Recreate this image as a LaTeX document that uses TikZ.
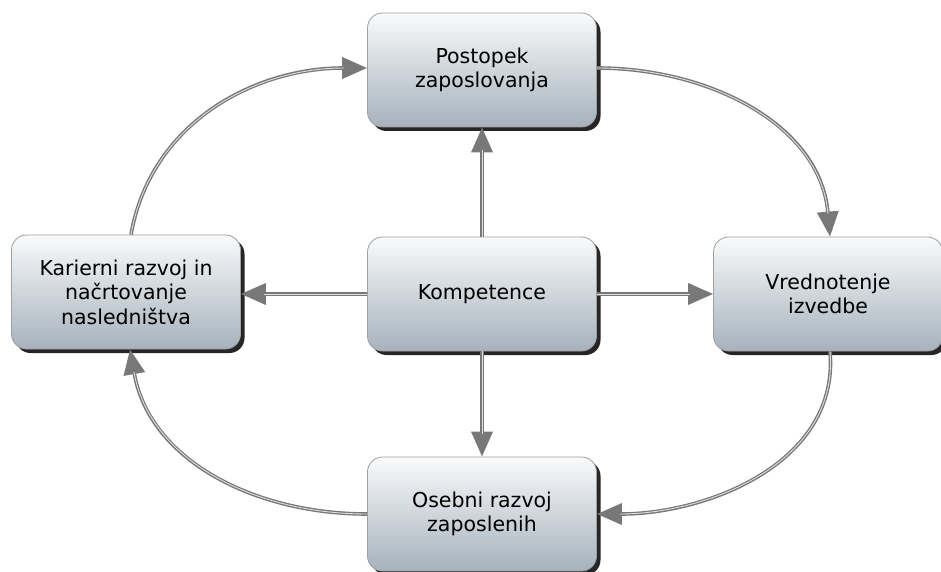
\documentclass[tikz,border=0pt]{standalone}
\usepackage{fontspec}
\setmainfont{DejaVu Sans}
\usetikzlibrary{arrows.meta,shadows}
\definecolor{boxtop}{RGB}{249,250,251}
\definecolor{boxbottom}{RGB}{166,178,188}
\definecolor{arrowgray}{RGB}{120,120,120}

\begin{document}
\begin{tikzpicture}[x=1pt, y=1pt,
    box/.style={draw=gray!75, line width=0.8pt, rounded corners=15pt,
        top color=boxtop, bottom color=boxbottom,
        minimum width=229pt, minimum height=114pt, align=center,
        font=\fontsize{20.5}{24.5}\selectfont,
        drop shadow={shadow xshift=4pt, shadow yshift=-4pt, fill=black!85, opacity=1}},
    arr/.style={draw=arrowgray, line width=3.6pt, -{Triangle[length=25pt,width=21pt]},
        postaction={draw=gray!25, line width=0.9pt, shorten >=23pt, -}}]
    \useasboundingbox (0, 0) rectangle (941, 571);

    % Boxes
    \node[box] (post) at (482, 501) {Postopek\\zaposlovanja};
    \node[box] (komp) at (482, 277) {Kompetence};
    \node[box] (kar) at (126, 279) {Karierni razvoj in\\načrtovanje\\nasledništva};
    \node[box] (vred) at (828, 277) {Vrednotenje\\izvedbe};
    \node[box] (oseb) at (482, 57) {Osebni razvoj\\zaposlenih};

    % Cycle
    \draw[arr] ([xshift=5pt]kar.north) to[out=80, in=180] ([yshift=2pt]post.west);
    \draw[arr] ([yshift=2pt]post.east) to[out=0, in=95] ([xshift=2pt]vred.north);
    \draw[arr] ([xshift=2pt]vred.south) to[out=-85, in=0] (oseb.east);
    \draw[arr] (oseb.west) to[out=180, in=-80] ([xshift=4pt]kar.south);

    % From the centre
    \draw[arr] (komp.north) -- (post.south);
    \draw[arr] (komp.west) -- (komp.west -| kar.east);
    \draw[arr] (komp.east) -- (vred.west);
    \draw[arr] (komp.south) -- (oseb.north);
\end{tikzpicture}
\end{document}
